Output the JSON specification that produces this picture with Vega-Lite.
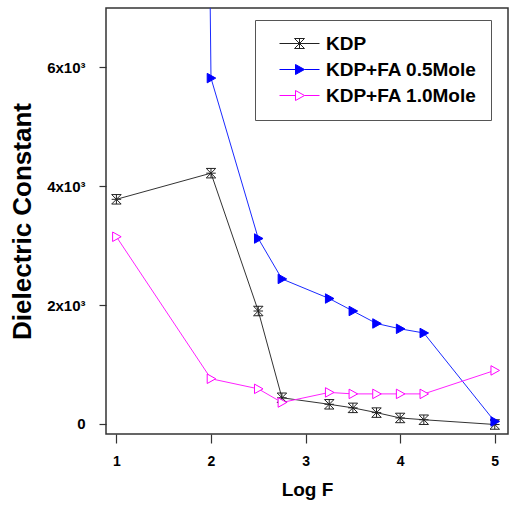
{
  "$schema": "https://vega.github.io/schema/vega-lite/v6.json",
  "autosize": {"type": "none"},
  "width": 402,
  "height": 426,
  "padding": {"left": 106, "top": 8, "right": 7, "bottom": 72},
  "background": "white",
  "config": {
    "view": {"stroke": "#333333", "strokeWidth": 1.5},
    "axis": {"domain": false, "grid": false, "labelFont": "Liberation Sans", "labelFontWeight": "bold", "labelColor": "black", "tickColor": "#333333", "tickWidth": 1.2, "titleFont": "Liberation Sans", "titleFontWeight": "bold", "titleColor": "black"}
  },
  "data": {"values": [
    {"series": "KDP", "logF": 1, "dc": 3780},
    {"series": "KDP", "logF": 2, "dc": 4220},
    {"series": "KDP", "logF": 2.5, "dc": 1900},
    {"series": "KDP", "logF": 2.75, "dc": 440},
    {"series": "KDP", "logF": 3.25, "dc": 330},
    {"series": "KDP", "logF": 3.5, "dc": 270},
    {"series": "KDP", "logF": 3.75, "dc": 190},
    {"series": "KDP", "logF": 4, "dc": 100},
    {"series": "KDP", "logF": 4.25, "dc": 70},
    {"series": "KDP", "logF": 5, "dc": -10},
    {"series": "KDP+FA 0.5Mole", "logF": 1, "dc": 150000},
    {"series": "KDP+FA 0.5Mole", "logF": 2, "dc": 5820},
    {"series": "KDP+FA 0.5Mole", "logF": 2.5, "dc": 3120},
    {"series": "KDP+FA 0.5Mole", "logF": 2.75, "dc": 2440},
    {"series": "KDP+FA 0.5Mole", "logF": 3.25, "dc": 2110},
    {"series": "KDP+FA 0.5Mole", "logF": 3.5, "dc": 1900},
    {"series": "KDP+FA 0.5Mole", "logF": 3.75, "dc": 1690},
    {"series": "KDP+FA 0.5Mole", "logF": 4, "dc": 1600},
    {"series": "KDP+FA 0.5Mole", "logF": 4.25, "dc": 1530},
    {"series": "KDP+FA 0.5Mole", "logF": 5, "dc": 40},
    {"series": "KDP+FA 1.0Mole", "logF": 1, "dc": 3150},
    {"series": "KDP+FA 1.0Mole", "logF": 2, "dc": 760},
    {"series": "KDP+FA 1.0Mole", "logF": 2.5, "dc": 590},
    {"series": "KDP+FA 1.0Mole", "logF": 2.75, "dc": 360},
    {"series": "KDP+FA 1.0Mole", "logF": 3.25, "dc": 530},
    {"series": "KDP+FA 1.0Mole", "logF": 3.5, "dc": 505},
    {"series": "KDP+FA 1.0Mole", "logF": 3.75, "dc": 505},
    {"series": "KDP+FA 1.0Mole", "logF": 4, "dc": 505},
    {"series": "KDP+FA 1.0Mole", "logF": 4.25, "dc": 505},
    {"series": "KDP+FA 1.0Mole", "logF": 5, "dc": 900}
  ]},
  "encoding": {
    "x": {"field": "logF", "type": "quantitative",
      "scale": {"domain": [0.89, 5.14], "nice": false, "zero": false},
      "axis": {"values": [1, 2, 3, 4, 5], "tickSize": 9, "labelPadding": 11, "labelFontSize": 14, "title": "Log F", "titleFontSize": 19, "titlePadding": 12}},
    "y": {"field": "dc", "type": "quantitative",
      "scale": {"domain": [-170, 7000], "nice": false, "zero": false},
      "axis": {"values": [0, 2000, 4000, 6000], "tickSize": 7, "labelPadding": 14, "labelFontSize": 15,
        "labelExpr": "datum.value == 0 ? '0' : format(datum.value / 1000, 'd') + 'x10³'",
        "title": "Dielectric Constant", "titleFontSize": 26, "titlePadding": 11}}
  },
  "layer": [
    {
      "mark": {"type": "line", "clip": true, "strokeWidth": 1},
      "encoding": {
        "color": {"field": "series", "type": "nominal",
          "scale": {"domain": ["KDP", "KDP+FA 0.5Mole", "KDP+FA 1.0Mole"], "range": ["#333333", "#1a2aff", "#ff22ff"]},
          "legend": null}
      }
    },
    {
      "mark": {"type": "point", "clip": true, "filled": false, "strokeWidth": 1, "size": 90, "opacity": 1},
      "encoding": {
        "shape": {"field": "series", "type": "nominal",
          "scale": {"domain": ["KDP", "KDP+FA 0.5Mole", "KDP+FA 1.0Mole"],
            "range": ["M-1,-1L1,-1L-1,1L1,1ZM0,-1L0,1M-1,0L1,0", "M-0.8,-1L1,0L-0.8,1Z", "M-0.8,-1L1,0L-0.8,1Z"]},
          "legend": null},
        "stroke": {"field": "series", "type": "nominal",
          "scale": {"domain": ["KDP", "KDP+FA 0.5Mole", "KDP+FA 1.0Mole"], "range": ["#222222", "#0000ff", "#ff00ff"]},
          "legend": null},
        "fill": {"field": "series", "type": "nominal",
          "scale": {"domain": ["KDP", "KDP+FA 0.5Mole", "KDP+FA 1.0Mole"], "range": ["transparent", "#0000ff", "white"]},
          "legend": null}
      }
    },
    {
      "mark": {"type": "point", "clip": true, "filled": false, "strokeWidth": 1, "size": 100, "opacity": 0},
      "encoding": {
        "shape": {"field": "series", "type": "nominal",
          "scale": {"domain": ["KDP", "KDP+FA 0.5Mole", "KDP+FA 1.0Mole"],
            "range": ["M-4,0L4,0M-1,-1L1,-1L-1,1L1,1ZM0,-1L0,1", "M-4,0L-0.8,0M1,0L4,0M-0.8,-1L1,0L-0.8,1Z", "M-4,0L-0.8,0M1,0L4,0M-0.8,-1L1,0L-0.8,1Z"]},
          "legend": {"title": null, "orient": "none", "legendX": 149, "legendY": 12,
            "padding": 14, "strokeColor": "#555555", "fillColor": "white",
            "symbolOffset": 21, "labelOffset": 17, "symbolOpacity": 1, "symbolSize": 100, "symbolStrokeWidth": 1,
            "labelFont": "Liberation Sans", "labelFontWeight": "bold", "labelFontSize": 19, "labelColor": "black", "rowPadding": 6}},
        "stroke": {"field": "series", "type": "nominal",
          "scale": {"domain": ["KDP", "KDP+FA 0.5Mole", "KDP+FA 1.0Mole"], "range": ["#222222", "#0000ff", "#ff00ff"]}},
        "fill": {"field": "series", "type": "nominal",
          "scale": {"domain": ["KDP", "KDP+FA 0.5Mole", "KDP+FA 1.0Mole"], "range": ["transparent", "#0000ff", "white"]}}
      }
    }
  ],
  "resolve": {"scale": {"shape": "independent", "stroke": "independent", "fill": "independent", "color": "independent"}}
}
